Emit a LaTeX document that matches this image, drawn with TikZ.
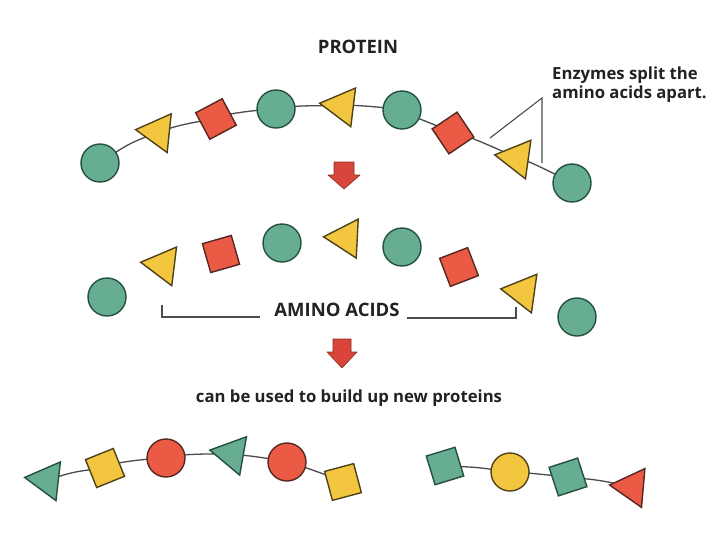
\documentclass[tikz,border=0pt]{standalone}
\usepackage{fontspec}
\setmainfont{Open Sans}
\usetikzlibrary{shapes.geometric,backgrounds}
\definecolor{gfill}{HTML}{66AD92}
\definecolor{gdraw}{HTML}{24513F}
\definecolor{yfill}{HTML}{F3C63F}
\definecolor{ydraw}{HTML}{4E4218}
\definecolor{rfill}{HTML}{EA5A44}
\definecolor{rdraw}{HTML}{552820}
\definecolor{linkc}{HTML}{4A4A50}
\definecolor{txt}{HTML}{222222}
\definecolor{arrfill}{HTML}{D9453A}
\definecolor{arrdraw}{HTML}{8B2A20}
\begin{document}
\begin{tikzpicture}[x=1pt,y=-1pt,
  base/.style={line width=1.4pt, inner sep=0pt, outer sep=0pt},
  circ/.style={base, circle, minimum size=38pt},
  sq/.style={base, rectangle, minimum size=30pt},
  tri/.style={base, regular polygon, regular polygon sides=3, minimum size=45pt},
  gr/.style={fill=gfill, draw=gdraw},
  yl/.style={fill=yfill, draw=ydraw},
  rd/.style={fill=rfill, draw=rdraw},
  link/.style={draw=linkc, line width=1.3pt},
  ptr/.style={draw=linkc, line width=1.1pt},
  lbl/.style={font=\bfseries\fontsize{16.7}{19.5}\selectfont, text=txt, inner sep=0pt},
  caps/.style={font=\bfseries\fontsize{18.5}{21}\selectfont, text=txt, inner sep=0pt},
  redarrow/.style={fill=arrfill, draw=arrdraw, line width=0.6pt, line join=round}
]
\useasboundingbox (0,0) rectangle (714,538);

% ---------- PROTEIN ----------
\node[caps] (protein) at (358,47) {PROTEIN};
\node[circ,gr] (p1) at (100,163) {};
\node[tri,yl,rotate=84] (p2) at (158,132) {};
\node[sq,rd,rotate=28] (p3) at (216,119) {};
\node[circ,gr] (p4) at (276,109) {};
\node[tri,yl,rotate=83] (p5) at (342,106) {};
\node[circ,gr] (p6) at (402,110) {};
\node[sq,rd,rotate=34] (p7) at (453,133) {};
\node[tri,yl,rotate=82] (p8) at (517,158) {};
\node[circ,gr] (p9) at (572,183) {};
\begin{pgfonlayer}{background}
  \draw[link] (p1) to[bend left=6] (p2) to[bend left=6] (p3) to[bend left=5] (p4)
    to[bend left=4] (p5) to[bend left=4] (p6) to[bend left=4] (p7)
    to[bend left=3] (p8) to[bend left=3] (p9);
\end{pgfonlayer}

% enzymes label
\node[lbl, anchor=west, align=left] (enz) at (552,84.5)
  {Enzymes split the\\amino acids apart.};
\coordinate (ez) at (542,98);
\coordinate (cut1) at (490,138);
\coordinate (cut2) at (542,163);
\draw[ptr] (cut1) -- (ez) -- (cut2);

% arrow 1
\path[redarrow, shift={(344,162)}] (-10,0) -- (10,0) -- (10,13) -- (16,13) -- (0,27)
  -- (-16,13) -- (-10,13) -- cycle;

% ---------- AMINO ACIDS ----------
\node[circ,gr] (m1) at (107,297) {};
\node[tri,yl,rotate=83] (m2) at (163,265) {};
\node[sq,rd,rotate=16] (m3) at (221,254) {};
\node[circ,gr] (m4) at (282,243) {};
\node[tri,yl,rotate=87] (m5) at (346,238) {};
\node[circ,gr] (m6) at (402,247) {};
\node[sq,rd,rotate=21] (m7) at (459,267) {};
\node[tri,yl,rotate=82] (m8) at (523,292) {};
\node[circ,gr] (m9) at (577,317) {};

\node[caps] (amino) at (337,310) {AMINO ACIDS};
\coordinate (bl1) at (162,305);
\coordinate (bl2) at (260,317);
\coordinate (br1) at (407,318);
\coordinate (br2) at (516,307);
\draw[ptr] (bl1) |- (bl2);
\draw[ptr] (br1) -| (br2);

% arrow 2
\path[redarrow, shift={(342,339)}] (-9,0) -- (9,0) -- (9,13) -- (15,13) -- (0,29)
  -- (-15,13) -- (-9,13) -- cycle;

\node[lbl] (build) at (349,398) {can be used to build up new proteins};

% ---------- new protein 1 ----------
\node[tri,gr,rotate=83.5] (b1) at (47,480) {};
\node[sq,yl,rotate=22] (b2) at (105,468) {};
\node[circ,rd] (b3) at (166,458) {};
\node[tri,gr,rotate=80] (b4) at (232,454) {};
\node[circ,rd] (b5) at (287,462) {};
\node[sq,yl,rotate=15] (b6) at (343,482) {};
\begin{pgfonlayer}{background}
  \draw[link] (b1) to[bend left=5] (b2) to[bend left=5] (b3) to[bend left=4] (b4)
    to[bend left=4] (b5) to[bend left=5] (b6);
\end{pgfonlayer}

% ---------- new protein 2 ----------
\node[sq,gr,rotate=17] (c1) at (445,466) {};
\node[circ,yl] (c2) at (510,472) {};
\node[sq,gr,rotate=18] (c3) at (568,477) {};
\node[tri,rd,rotate=85] (c4) at (632,487) {};
\begin{pgfonlayer}{background}
  \draw[link] (c1) to[bend left=3] (c2) -- (c3) to[bend left=3] (c4);
\end{pgfonlayer}
\end{tikzpicture}
\end{document}
